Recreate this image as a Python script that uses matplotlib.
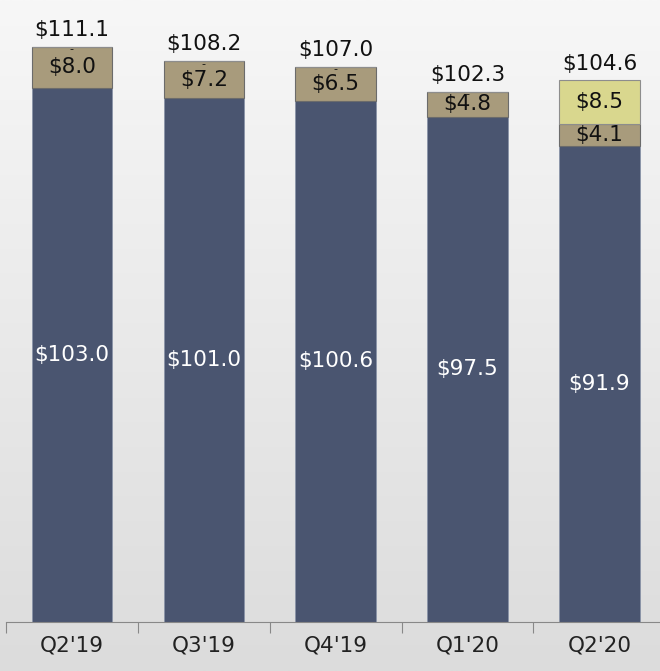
import matplotlib.pyplot as plt
import numpy as np

quarters = ["Q2'19", "Q3'19", "Q4'19", "Q1'20", "Q2'20"]
base = [103.0, 101.0, 100.6, 97.5, 91.9]
middle = [8.0, 7.2, 6.5, 4.8, 4.1]
extra = [0.0, 0.0, 0.0, 0.0, 8.5]
totals = ["$111.1", "$108.2", "$107.0", "$102.3", "$104.6"]

c_base = '#4a5570'
c_mid = '#a89b7c'
c_extra = '#d9d78e'

fig = plt.figure(figsize=(6.6, 6.71), dpi=100)

# background gradient
bg = fig.add_axes([0, 0, 1, 1])
grad = np.linspace(0, 1, 256).reshape(-1, 1)
bg.imshow(grad, aspect='auto', cmap=plt.cm.colors.LinearSegmentedColormap.from_list('g', ['#f7f7f7', '#dcdcdc']),
          extent=[0, 1, 0, 1], origin='upper')
bg.axis('off')

ax = fig.add_axes([6 / 660, 49 / 671, 662 / 660, 622 / 671])
ax.patch.set_alpha(0)
x = np.arange(len(quarters))
w = 0.61
ax.bar(x, base, w, color=c_base, edgecolor='#8a94a8', linewidth=0.6)
ax.bar(x, middle, w, bottom=base, color=c_mid, edgecolor='#6b6b6b', linewidth=0.8)
bottom2 = [b + m for b, m in zip(base, middle)]
ax.bar(x, extra, w, bottom=bottom2, color=c_extra, edgecolor='#8d8d8d', linewidth=0.8)

fs = 15.5
for i in range(len(quarters)):
    ax.text(x[i], base[i] / 2, '$%.1f' % base[i], ha='center', va='center',
            color='white', fontsize=fs)
    ax.text(x[i], base[i] + middle[i] / 2, '$%.1f' % middle[i], ha='center', va='center',
            color='#111111', fontsize=fs)
    top = bottom2[i] + extra[i]
    if extra[i] > 0:
        ax.text(x[i], bottom2[i] + extra[i] / 2, '$%.1f' % extra[i], ha='center', va='center',
                color='#111111', fontsize=fs)
    else:
        ax.text(x[i], bottom2[i] - 0.5, '-', ha='center', va='center', color='#111111', fontsize=8)
    ax.text(x[i], top + 1.3, totals[i], ha='center', va='bottom', color='#111111', fontsize=fs)

ax.set_xlim(-0.5, 4.5 + 0.02)
ax.set_ylim(0, 120)
ax.set_yticks([])
for s in ['top', 'right', 'left']:
    ax.spines[s].set_visible(False)
ax.spines['bottom'].set_color('#888888')
ax.set_xticks(np.arange(-0.5, 5, 1))
ax.set_xticklabels([])
ax.tick_params(axis='x', which='major', length=8, color='#888888', direction='out')
ax.set_xticks(x, minor=True)
ax.set_xticklabels(quarters, minor=True, fontsize=15.5, color='#222222')
ax.tick_params(axis='x', which='minor', length=0, pad=10)

fig.savefig('out.png', dpi=100)
